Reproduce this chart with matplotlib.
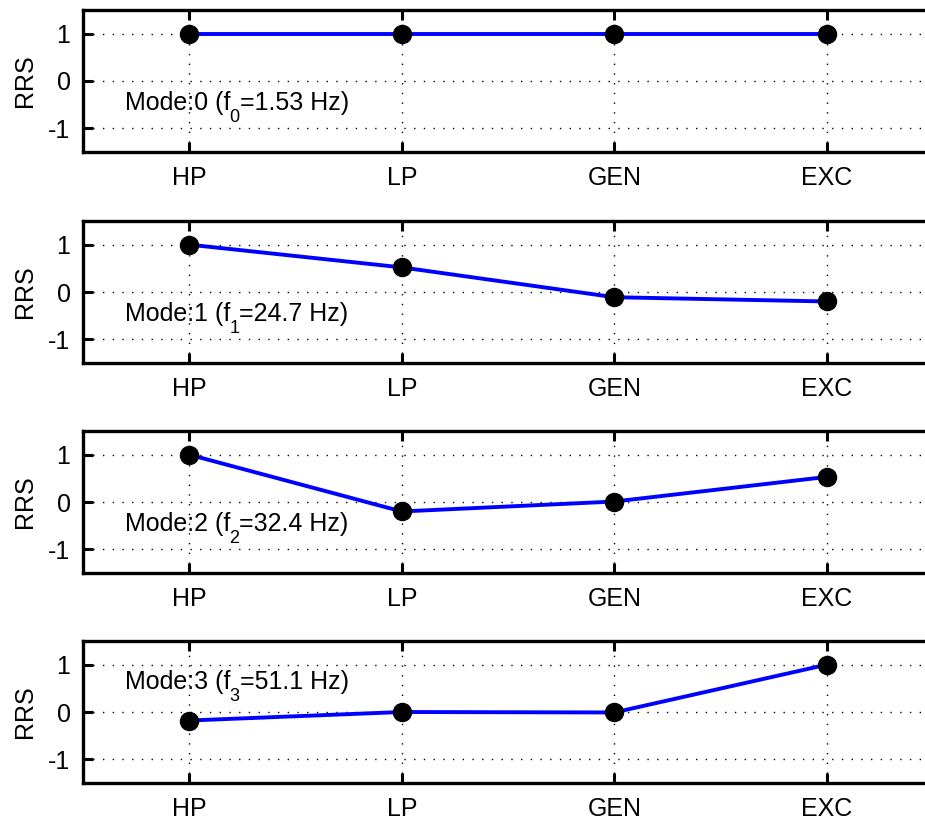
import matplotlib
matplotlib.use('Agg')
import matplotlib.pyplot as plt

plt.rcParams['font.family'] = 'Liberation Sans'
plt.rcParams['axes.unicode_minus'] = False

stations = ['HP', 'LP', 'GEN', 'EXC']
freqs = ['1.53', '24.7', '32.4', '51.1']
mode0 = [1.0, 1.0, 1.0, 1.0]
mode1 = [1.0, 0.52, -0.11, -0.20]
mode2 = [1.0, -0.20, 0.01, 0.53]
mode3 = [-0.18, 0.0, -0.01, 1.0]
modes = [mode0, mode1, mode2, mode3]
# where each mode caption sits (y in data units)
label_y = [-0.72, -0.72, -0.72, 0.38]

fig = plt.figure(figsize=(9.25, 8.21), dpi=100)
x = list(range(1, len(stations) + 1))

left, width, height = 83 / 925, 850 / 925, 142 / 821
tops = [10, 221, 431, 641]
fs = 18

for k, vals in enumerate(modes):
    bottom = 1 - (tops[k] + 142) / 821
    ax = fig.add_axes([left, bottom, width, height])
    ax.plot(x, vals, '-', color='#0000ff', lw=2.8, zorder=3)
    ax.plot(x, vals, 'o', color='black', ms=13, zorder=4)
    ax.set_xlim(0.5, 4.5)
    ax.set_ylim(-1.5, 1.5)
    ax.set_xticks(x)
    ax.set_xticklabels(stations)
    ax.set_yticks([-1, 0, 1])
    ax.grid(True, color='black', lw=1.0, linestyle=(0, (1, 6)))
    ax.tick_params(direction='in', length=7, width=2.2, labelsize=fs,
                   top=True, right=False)
    ax.tick_params(axis='x', pad=10)
    ax.tick_params(axis='y', pad=9)
    for s in ax.spines.values():
        s.set_linewidth(2.4)
    ax.set_ylabel('RRS', fontsize=fs, labelpad=8)

    # caption with a dropped subscript: "Mode:k (f" + "k" + "=... Hz)"
    t1 = ax.text(0.7, label_y[k], 'Mode:%d (f' % k, fontsize=fs,
                 ha='left', va='bottom', zorder=5)
    t2 = ax.annotate('%d' % k, xy=(1, 0), xycoords=t1,
                     xytext=(-1, -8), textcoords='offset points',
                     fontsize=13, ha='left', va='bottom', zorder=5)
    ax.annotate('=%s Hz)' % freqs[k], xy=(1, 0), xycoords=(t2, t1),
                xytext=(0, 0), textcoords='offset points',
                fontsize=fs, ha='left', va='bottom', zorder=5)

fig.savefig('out.png', dpi=100)
